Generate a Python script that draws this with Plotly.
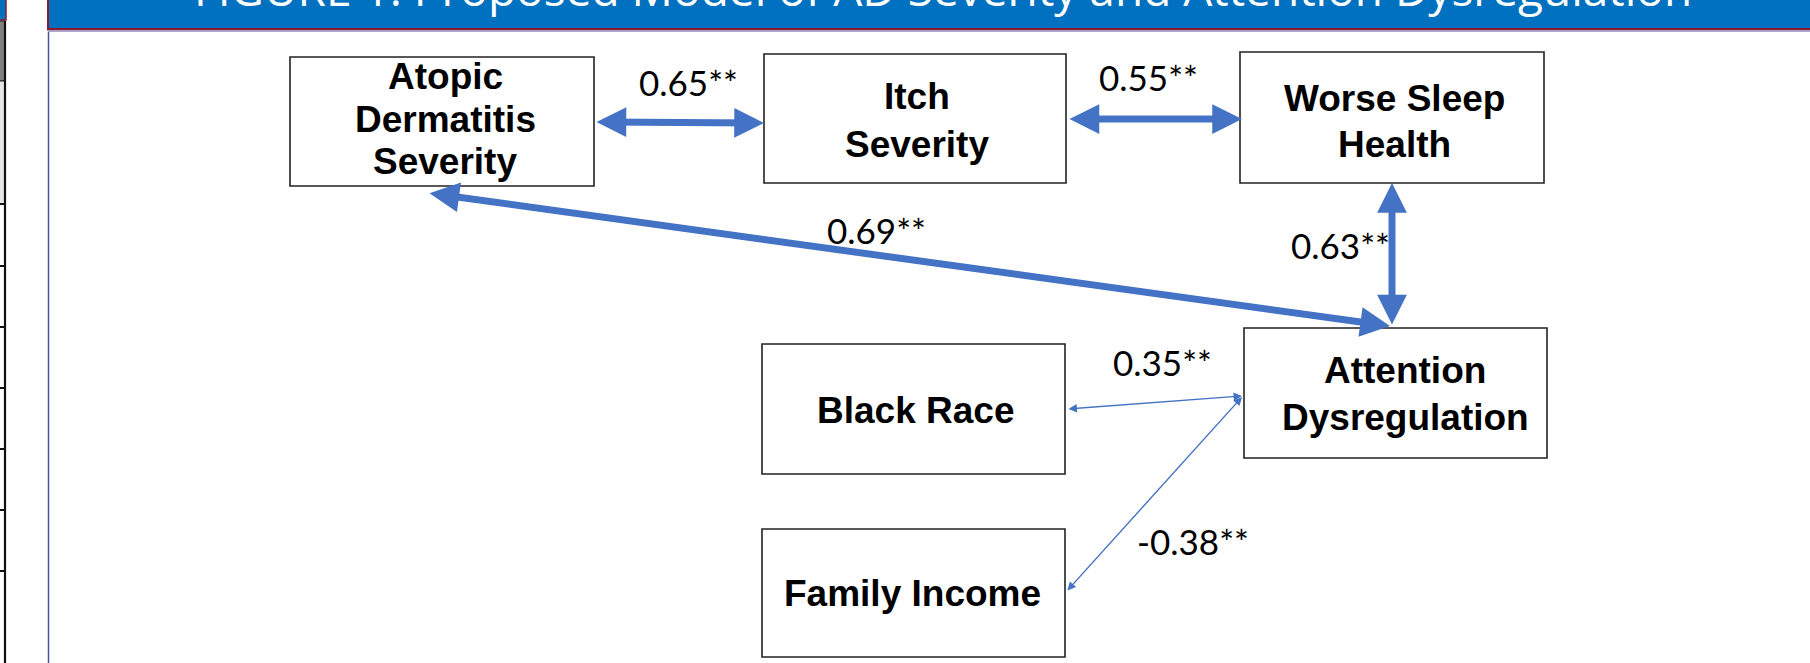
import plotly.graph_objects as go

# ---- data ----
title_text = "FIGURE 1: Proposed Model of AD Severity and Attention Dysregulation"
node_labels = ["Atopic<br>Dermatitis<br>Severity", "Itch<br>Severity", "Worse Sleep<br>Health",
               "Attention<br>Dysregulation", "Black Race", "Family Income"]
edge_from = [0, 1, 3, 0, 4, 5]
edge_to = [1, 2, 2, 3, 3, 3]
edge_coefs = [0.65, 0.55, 0.63, 0.69, 0.35, -0.38]
edge_strong = [True, True, True, True, False, False]

# ---- layout (pixel geometry) ----
W, H = 1810, 663
boxes = [(290, 57, 594, 186), (764, 54, 1066, 183), (1240, 52, 1544, 183),
         (1244, 328, 1547, 458), (762, 344, 1065, 474), (762, 529, 1065, 657)]
label_x = [445, 917, 1394, 1405, 915, 912]
label_line_y = [[76, 119, 161], [96, 144], [98, 144], [370, 417], [410], [593]]
edge_ends = [((595, 122), (764, 123)), ((1068, 119), (1242, 119)), ((1392, 326), (1392, 183)),
             ((428, 193), (1390, 326)), ((1067, 409), (1242, 396)), ((1066, 592), (1242, 397))]
coef_pos = [(688, 82), (1148, 77), (1340, 245), (876, 230), (1162, 362), (1193, 541)]

BLUE = "#4472C4"

fig = go.Figure()
fig.add_trace(go.Scatter(x=[0, W], y=[0, H], mode="markers", marker=dict(opacity=0),
                         hoverinfo="skip", showlegend=False))

shapes = []
# title bar
shapes.append(dict(type="rect", x0=48, x1=W + 2, y0=-5, y1=28, fillcolor="#0070C0", line=dict(width=0), layer="below"))
shapes.append(dict(type="rect", x0=47, x1=W + 2, y0=28, y1=30.5, fillcolor="#8B1A2E", line=dict(width=0), layer="below"))
shapes.append(dict(type="rect", x0=47, x1=49, y0=-5, y1=30, fillcolor="#8B1A2E", line=dict(width=0), layer="below"))
shapes.append(dict(type="rect", x0=48, x1=W + 2, y0=30.5, y1=32, fillcolor="#A8A8D8", line=dict(width=0), layer="below"))
# content frame left edge
shapes.append(dict(type="line", x0=48.5, x1=48.5, y0=32, y1=H + 2, line=dict(color="#4B4BB0", width=1.5), layer="below"))
# left strip (table edge)
shapes.append(dict(type="rect", x0=-2, x1=6, y0=-5, y1=20, fillcolor="#0070C0", line=dict(color="#8B1A2E", width=1.5), layer="below"))
shapes.append(dict(type="rect", x0=-2, x1=5, y0=21, y1=81, fillcolor="#7F7F7F", line=dict(color="#222", width=1), layer="below"))
shapes.append(dict(type="rect", x0=-2, x1=5, y0=81, y1=204, fillcolor="#E6E6E6", line=dict(color="#222", width=1), layer="below"))
shapes.append(dict(type="line", x0=5, x1=5, y0=21, y1=H + 2, line=dict(color="#111", width=2.2), layer="below"))
for ty in [204, 266, 327, 388, 449, 510, 571]:
    shapes.append(dict(type="line", x0=-1, x1=5, y0=ty, y1=ty, line=dict(color="#111", width=2), layer="below"))
# node boxes
for (x0, y0, x1, y1) in boxes:
    shapes.append(dict(type="rect", x0=x0, x1=x1, y0=y0, y1=y1, fillcolor="white",
                       line=dict(color="#222222", width=1.6), layer="below"))

annotations = []
annotations.append(dict(x=943 / W, y=1 + 12 / H, xref="paper", yref="paper", text=title_text, showarrow=False,
                        xanchor="center", yanchor="middle",
                        font=dict(family="Open Sans", size=46, color="white")))
for lbl, cx, ys in zip(node_labels, label_x, label_line_y):
    for line_txt, cy in zip(lbl.split("<br>"), ys):
        annotations.append(dict(x=cx, y=cy, text=f"<b>{line_txt}</b>", showarrow=False,
                                xanchor="center", yanchor="middle",
                                font=dict(family="Liberation Sans", size=37, color="black")))
for coef, (cx, cy) in zip(edge_coefs, coef_pos):
    annotations.append(dict(x=cx, y=cy, text=f"{coef:.2f}**", showarrow=False, xanchor="center", yanchor="middle",
                            font=dict(family="Lato", size=35, color="black")))
for strong, ((sx, sy), (ex, ey)) in zip(edge_strong, edge_ends):
    w = 7 if strong else 1.4
    sz = 0.85 if strong else 1.2
    annotations.append(dict(x=ex, y=ey, ax=sx, ay=sy, xref="x", yref="y", axref="x", ayref="y",
                            text="", showarrow=True, arrowhead=2, startarrowhead=2, arrowside="end+start",
                            arrowwidth=w, arrowsize=sz, startarrowsize=sz, arrowcolor=BLUE,
                            standoff=0, startstandoff=0))

fig.update_layout(
    width=W, height=H, margin=dict(l=0, r=0, t=0, b=0),
    paper_bgcolor="white", plot_bgcolor="white",
    xaxis=dict(range=[0, W], visible=False, fixedrange=True),
    yaxis=dict(range=[H, 0], visible=False, fixedrange=True),
    shapes=shapes, annotations=annotations, showlegend=False,
)

fig.write_html("out.html", config={"displayModeBar": False},
               post_script="document.body.style.margin='0';")
